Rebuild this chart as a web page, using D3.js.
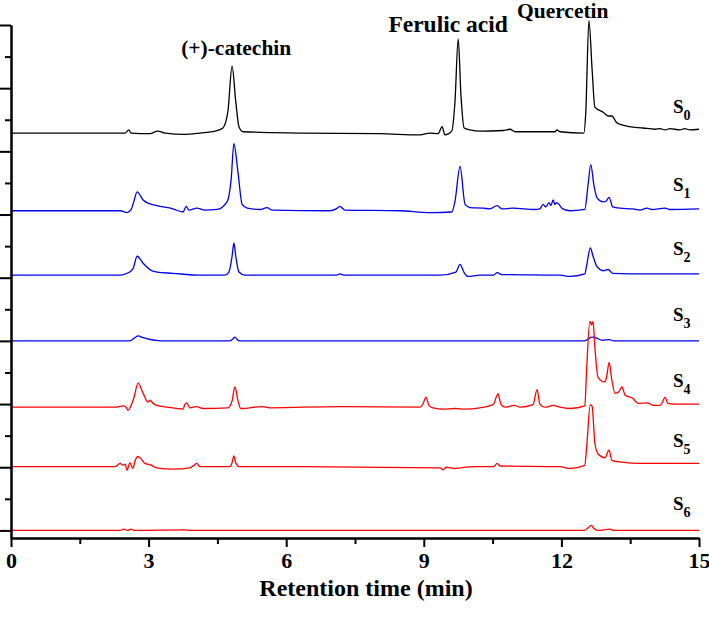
<!DOCTYPE html>
<html>
<head>
<meta charset="utf-8">
<script src="https://cdn.jsdelivr.net/npm/d3@7"></script>
<style>
  html, body { margin: 0; padding: 0; background: #fff; }
  svg { display: block; }
  text { font-family: "Liberation Serif", "Times New Roman", serif; font-weight: bold; fill: #000; }
</style>
</head>
<body>
<svg id="chart" width="709" height="617"></svg>
<script>
// ---------------- data (retention time in min, signal relative to each trace's baseline) ----------------
const sampleNames = ["0", "1", "2", "3", "4", "5", "6"];
const sampleOffsets = [6.29, 5.06, 4.04, 3.0, 1.95, 1.01, 0];

const s0 = [[0,0],[1.94,0],[2.49,0],[2.57,0.05],[2.62,0],[3.03,-0.01],[3.2,0.03],[3.36,0],[3.79,-0.02],[4.12,0],
  [4.45,0.03],[4.62,0.08],[4.73,0.35],[4.82,1.06],[4.9,0.5],[4.97,0.1],[5.06,0.02],[6.3,0],[8.04,-0.01],[8.92,-0.03],
  [9.13,0],[9.31,-0.01],[9.4,0.1],[9.46,-0.03],[9.61,0.03],[9.68,0.5],[9.75,1.49],[9.81,0.6],[9.88,0.08],[10.01,0.05],
  [10.22,0.03],[10.73,0.04],[10.88,0.06],[10.99,0.02],[11.86,0.02],[11.9,0.05],[11.97,0.02],[12.49,0],[12.53,0.3],
  [12.6,1.78],[12.67,1.0],[12.73,0.41],[12.91,0.33],[13.02,0.27],[13.1,0.27],[13.21,0.16],[13.43,0.11],[13.78,0.08],
  [14.04,0.06],[14.15,0.07],[14.26,0.05],[14.37,0.07],[14.58,0.05],[14.69,0.07],[14.8,0.05],[15,0.06]];

const s1 = [[0,0],[2.38,0],[2.53,-0.03],[2.62,0.02],[2.68,0.15],[2.75,0.30],[2.88,0.17],[2.99,0.12],[3.18,0.08],
  [3.53,0.03],[3.75,-0.02],[3.82,0.07],[3.88,0.01],[4.05,0.04],[4.23,0.01],[4.49,0.02],[4.71,0.14],[4.8,0.5],[4.86,1.06],
  [4.95,0.6],[5.04,0.1],[5.15,0.04],[5.43,0.02],[5.58,0.05],[5.69,0.01],[6.95,0],[7.09,0.03],[7.17,0.07],[7.28,0.01],
  [8.48,0],[9.13,-0.03],[9.61,-0.02],[9.68,0.15],[9.79,0.70],[9.9,0.1],[10.01,0.05],[10.3,0.04],[10.44,0.03],[10.6,0.08],
  [10.7,0.03],[10.94,0.04],[11.42,0.02],[11.53,0.03],[11.6,0.1],[11.66,0.06],[11.73,0.13],[11.77,0.08],[11.82,0.17],
  [11.86,0.1],[11.9,0.13],[12.03,0.03],[12.19,0],[12.51,0.02],[12.58,0.4],[12.64,0.73],[12.71,0.4],[12.78,0.2],
  [12.91,0.14],[12.97,0.15],[13.04,0.21],[13.12,0.06],[13.28,0.04],[13.56,0.03],[13.71,0.01],[13.87,0.04],[13.97,0.02],
  [14.26,0.04],[14.37,0.02],[15,0.03]];

const s2 = [[0,0],[2.38,0],[2.53,0.03],[2.66,0.1],[2.75,0.30],[2.88,0.19],[3.01,0.1],[3.07,0.07],[3.18,0.05],[3.53,0.03],
  [4.12,0],[4.66,0],[4.75,0.05],[4.82,0.3],[4.86,0.51],[4.9,0.3],[4.97,0.05],[5.1,0],[7.1,0],[7.17,0.02],[7.28,0],
  [9.35,0],[9.7,0.05],[9.79,0.17],[9.88,0.04],[9.96,-0.02],[10.22,0],[10.52,0],[10.6,0.04],[10.7,0.01],[11.97,0],[12.19,-0.02],
  [12.51,0.02],[12.55,0.15],[12.63,0.43],[12.69,0.3],[12.78,0.13],[12.91,0.07],[13.02,0.09],[13.12,0.03],[13.84,0.02],[15,0.02]];

const s3 = [[0,0],[2.59,0],[2.7,0.05],[2.77,0.08],[2.88,0.05],[2.99,0.03],[3.14,0.01],[3.25,0],[4.77,0],[4.84,0.03],
  [4.88,0.06],[4.95,0.01],[5.04,0],[12.51,0],[12.58,0.03],[12.67,0.06],[12.78,0.04],[12.89,0.01],[13.04,0.02],[13.15,0],[15,0]];

const s4 = [[0,0],[2.27,0],[2.44,0.02],[2.51,0],[2.55,-0.05],[2.62,0.03],[2.68,0.15],[2.77,0.38],[2.88,0.22],[2.99,0.08],
  [3.03,0.11],[3.1,0.06],[3.18,0.03],[3.53,-0.01],[3.75,-0.03],[3.79,0.04],[3.83,0.07],[3.9,-0.01],[4.05,0.01],[4.19,-0.02],
  [4.73,-0.01],[4.82,0.1],[4.88,0.32],[4.95,0.1],[5.01,-0.02],[5.47,0.01],[5.65,-0.01],[7.17,0.01],[8.92,0],[8.98,0.05],
  [9.05,0.16],[9.11,0.03],[9.2,-0.01],[9.42,-0.03],[9.68,-0.02],[9.9,-0.03],[10.22,-0.01],[10.51,0.04],[10.62,0.21],
  [10.68,0.05],[10.77,0],[10.97,0.03],[11.1,0],[11.38,0.04],[11.47,0.28],[11.53,0.05],[11.64,0],[11.82,0.03],[11.97,0],
  [12.19,-0.02],[12.51,0.02],[12.55,0.6],[12.62,1.36],[12.66,1.3],[12.69,1.36],[12.73,0.95],[12.8,0.47],[12.95,0.4],
  [12.99,0.5],[13.04,0.71],[13.1,0.43],[13.17,0.22],[13.25,0.24],[13.32,0.32],[13.39,0.19],[13.56,0.14],[13.67,0.06],
  [13.87,0.07],[14.0,0.03],[14.15,0.03],[14.21,0.09],[14.26,0.16],[14.32,0.06],[14.47,0.05],[15,0.05]];

const s5 = [[0,0],[2.27,0],[2.38,0.05],[2.44,0.02],[2.49,0.04],[2.53,-0.06],[2.59,0.06],[2.66,-0.03],[2.7,0.08],[2.77,0.16],
  [2.86,0.1],[2.92,0.05],[3.03,0.03],[3.18,-0.02],[3.53,-0.04],[3.9,-0.02],[3.99,0.02],[4.05,0.05],[4.12,0],[4.77,0],
  [4.82,0.06],[4.86,0.17],[4.9,0.06],[4.97,0],[6.3,0],[9.35,-0.02],[9.42,-0.05],[9.49,-0.01],[9.68,-0.03],[9.79,-0.02],
  [10.12,0],[10.52,0],[10.6,0.05],[10.66,0.01],[11.97,0],[12.19,-0.03],[12.51,0.02],[12.55,0.3],[12.63,0.98],[12.67,0.95],
  [12.73,0.37],[12.8,0.2],[12.95,0.14],[13.04,0.26],[13.1,0.1],[13.32,0.07],[13.71,0.05],[15,0.05]];

const s6 = [[0,0],[2.38,0],[2.46,0.02],[2.53,0],[2.62,0.02],[2.68,0],[3.79,0.01],[3.9,0],[12.51,0],[12.58,0.04],
  [12.65,0.08],[12.71,0.03],[12.8,0],[13.06,0.02],[13.15,0],[15,0]];

const seriesValues = [s0, s1, s2, s3, s4, s5, s6];
const seriesColors = ["#000000", "#0000ee", "#0000ee", "#0000ee", "#ff0000", "#ff0000", "#ff0000"];

const peakNames = ["(+)-catechin", "Ferulic acid", "Quercetin"];
const peakLabelTimes = [4.91, 9.53, 12.03];

const xTicks = [0, 3, 6, 9, 12, 15];
const xMinorTicks = [1.5, 4.5, 7.5, 10.5, 13.5];
const yTicks = [0, 1, 2, 3, 4, 5, 6, 7, 8];
const yMinorTicks = [0.5, 1.5, 2.5, 3.5, 4.5, 5.5, 6.5, 7.5];
const xTitle = "Retention time (min)";

// ---------------- drawing ----------------
const svg = d3.select("#chart");
const x = d3.scaleLinear().domain([0, 15]).range([11, 699]);
const y = d3.scaleLinear().domain([-0.12, 8]).range([538, 25]);

const line = d3.line()
  .x(d => x(d[0]))
  .y(d => y(d[1]))
  .curve(d3.curveMonotoneX);

seriesValues.forEach((s, i) => {
  const pts = s.map(p => [p[0], p[1] + sampleOffsets[i]]);
  svg.append("path")
    .attr("d", line(pts))
    .attr("fill", "none")
    .attr("stroke", seriesColors[i])
    .attr("stroke-width", 1.3)
    .attr("stroke-linejoin", "round");
});

// axes
const axisStyle = g => {
  g.selectAll("path").attr("stroke", "#000").attr("stroke-width", 2);
  g.selectAll("line").attr("stroke", "#000").attr("stroke-width", 2);
};

svg.append("g").attr("transform", `translate(0,${y.range()[0]})`)
  .call(d3.axisBottom(x).tickValues(xMinorTicks).tickSize(6).tickSizeOuter(0).tickFormat(""))
  .call(axisStyle);
const xAx = svg.append("g").attr("transform", `translate(0,${y.range()[0]})`)
  .call(d3.axisBottom(x).tickValues(xTicks).tickSize(9).tickSizeOuter(0).tickFormat(d3.format("d")))
  .call(axisStyle);
xAx.selectAll("text")
  .attr("font-size", 22).attr("font-family", "Liberation Serif, Times New Roman, serif")
  .attr("font-weight", "bold").attr("fill", "#000").attr("dy", "0.82em");

svg.append("g").attr("transform", `translate(${x.range()[0]},0)`)
  .call(d3.axisLeft(y).tickValues(yMinorTicks).tickSize(6).tickSizeOuter(0).tickFormat(""))
  .call(axisStyle);
svg.append("g").attr("transform", `translate(${x.range()[0]},0)`)
  .call(d3.axisLeft(y).tickValues(yTicks).tickSize(11).tickSizeOuter(0).tickFormat(""))
  .call(axisStyle);

// x title
svg.append("text")
  .attr("x", (x.range()[0] + x.range()[1]) / 2 + 11)
  .attr("y", 596)
  .attr("text-anchor", "middle")
  .attr("font-size", 24)
  .text(xTitle);

// peak names
const peakBaselines = [55, 32, 18];
const peakFontSizes = [21.5, 23.5, 21.5];
peakNames.forEach((n, i) => {
  svg.append("text")
    .attr("x", x(peakLabelTimes[i]))
    .attr("y", peakBaselines[i])
    .attr("text-anchor", "middle")
    .attr("font-size", peakFontSizes[i])
    .text(n);
});

// sample labels S with subscript
sampleNames.forEach((n, i) => {
  const t = svg.append("text")
    .attr("x", 673)
    .attr("y", y(sampleOffsets[i]) - 20)
    .attr("font-size", 19);
  t.append("tspan").text("S");
  t.append("tspan").attr("font-size", 14).attr("dy", 7).text(n);
});
</script>
</body>
</html>
